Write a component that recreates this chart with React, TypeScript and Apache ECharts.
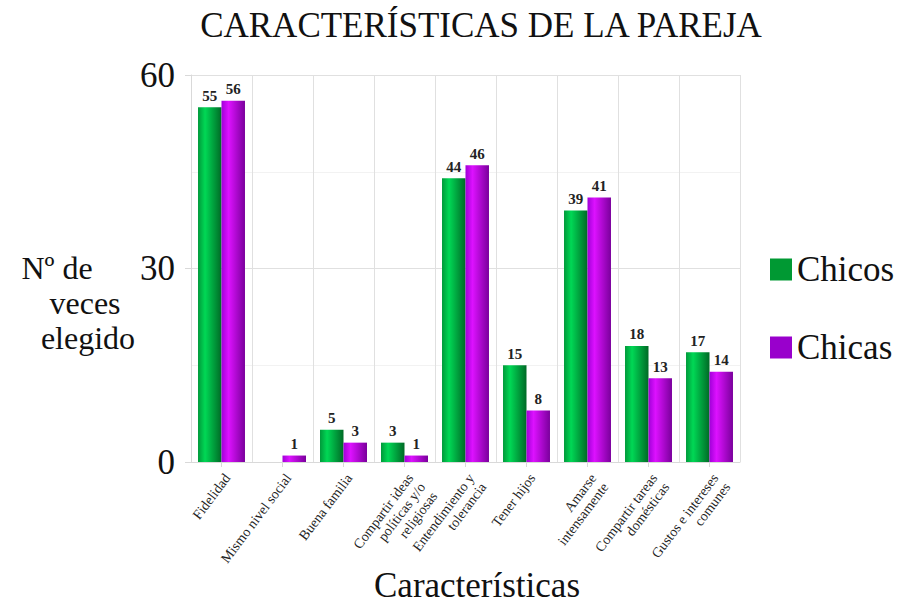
import React, { useEffect, useRef } from "react";
import * as echarts from "echarts";

const categories = [
  "Fidelidad",
  "Mismo nivel social",
  "Buena familia",
  "Compartir ideas\npolíticas y/o\nreligiosas",
  "Entendimiento y\ntolerancia",
  "Tener hijos",
  "Amarse\nintensamente",
  "Compartir tareas\ndomésticas",
  "Gustos e intereses\ncomunes",
];
const chicos = [55, 0, 5, 3, 44, 15, 39, 18, 17];
const chicas = [56, 1, 3, 1, 46, 8, 41, 13, 14];
const seriesNames = ["Chicos", "Chicas"];
const yTicks = [0, 30, 60];

const FONT = "serif";

export default function App() {
  const ref = useRef<HTMLDivElement>(null);
  useEffect(() => {
    if (!ref.current) return;
    const chart = echarts.init(ref.current, undefined, { renderer: "svg" });
    const greenGrad = new echarts.graphic.LinearGradient(0, 0, 1, 0, [
      { offset: 0, color: "#00993a" },
      { offset: 0.3, color: "#00d855" },
      { offset: 1, color: "#006a26" },
    ]);
    const purpleGrad = new echarts.graphic.LinearGradient(0, 0, 1, 0, [
      { offset: 0, color: "#a000d8" },
      { offset: 0.3, color: "#dd11ff" },
      { offset: 1, color: "#7a009c" },
    ]);
    const labelCfg = {
      show: true,
      position: "top",
      distance: 4,
      fontFamily: FONT,
      fontWeight: "bold",
      fontSize: 15,
      color: "#222",
      formatter: (p: any) => (p.value === 0 ? "" : String(p.value)),
    };
    const yName = (text: string, x: number, y: number) => ({
      type: "text",
      x,
      y,
      style: {
        text,
        fontFamily: FONT,
        fontSize: 32,
        lineHeight: 32,
        fill: "#111",
        align: "center",
        verticalAlign: "middle",
      },
    });
    chart.setOption({
      animation: false,
      backgroundColor: "#ffffff",
      textStyle: { fontFamily: FONT },
      title: {
        text: "CARACTERÍSTICAS DE LA PAREJA",
        left: 476,
        textAlign: "center",
        top: 3,
        textStyle: { fontFamily: FONT, fontSize: 35, fontWeight: "normal", color: "#111" },
      },
      legend: {
        orient: "vertical",
        left: 770,
        top: 252,
        padding: 0,
        itemWidth: 22,
        itemHeight: 22,
        itemGap: 43,
        icon: "rect",
        textStyle: { fontFamily: FONT, fontSize: 35, color: "#111" },
        data: [
          { name: seriesNames[0], itemStyle: { color: "#009933" } },
          { name: seriesNames[1], itemStyle: { color: "#9900cc" } },
        ],
      },
      grid: { left: 191, right: 164, top: 75, bottom: 142 },
      xAxis: {
        type: "category",
        data: categories,
        axisLine: { show: true, lineStyle: { color: "#d9d9d9" } },
        axisTick: { show: true, alignWithLabel: true, length: 5, lineStyle: { color: "#d9d9d9" } },
        splitLine: { show: true, lineStyle: { color: "#e0e0e0", width: 1 } },
        axisLabel: {
          rotate: 53,
          interval: 0,
          fontFamily: FONT,
          fontSize: 14,
          color: "#222",
          lineHeight: 15,
          margin: 9,
          align: "right",
          verticalAlign: "top",
        },
      },
      yAxis: {
        type: "value",
        min: 0,
        max: 60,
        interval: 30,
        axisLine: { show: true, lineStyle: { color: "#d9d9d9" } },
        axisTick: { show: true, length: 6, lineStyle: { color: "#d9d9d9" } },
        axisLabel: {
          fontFamily: FONT,
          fontSize: 35,
          color: "#111",
          margin: 16,
          formatter: (v: number) => (yTicks.includes(v) ? String(v) : ""),
        },
        splitLine: { show: true, lineStyle: { color: "#e0e0e0" } },
        minorTick: { show: false, splitNumber: 2 },
        minorSplitLine: { show: true, lineStyle: { color: "#f2f2f2" } },
      },
      graphic: [
        yName("Nº de", 57, 268),
        yName("veces", 85, 303),
        yName("elegido", 88, 338),
        {
          type: "text",
          x: 477,
          y: 585,
          style: {
            text: "Características",
            fontFamily: FONT,
            fontSize: 35,
            fill: "#111",
            align: "center",
            verticalAlign: "middle",
          },
        },
      ],
      series: [
        {
          name: seriesNames[0],
          type: "bar",
          data: chicos,
          barGap: "0%",
          barCategoryGap: "23%",
          itemStyle: { color: greenGrad },
          label: labelCfg,
        },
        {
          name: seriesNames[1],
          type: "bar",
          data: chicas,
          barGap: "0%",
          barCategoryGap: "23%",
          itemStyle: { color: purpleGrad },
          label: labelCfg,
        },
      ],
    });
    return () => chart.dispose();
  }, []);
  return (
    <div
      ref={ref}
      style={{ position: "fixed", left: 0, top: 0, width: 904, height: 604 }}
    />
  );
}
